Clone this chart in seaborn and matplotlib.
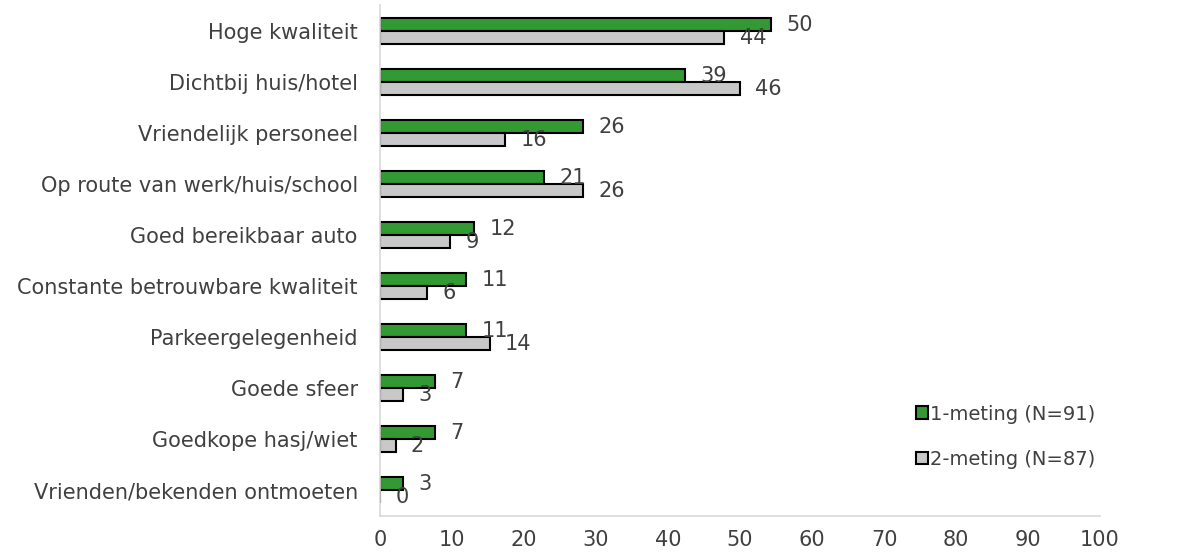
import matplotlib
matplotlib.use("Agg")
import matplotlib.pyplot as plt
import seaborn as sns
import pandas as pd

categories = [
    "Hoge kwaliteit",
    "Dichtbij huis/hotel",
    "Vriendelijk personeel",
    "Op route van werk/huis/school",
    "Goed bereikbaar auto",
    "Constante betrouwbare kwaliteit",
    "Parkeergelegenheid",
    "Goede sfeer",
    "Goedkope hasj/wiet",
    "Vrienden/bekenden ontmoeten",
]
meting1 = [50, 39, 26, 21, 12, 11, 11, 7, 7, 3]
meting2 = [44, 46, 16, 26, 9, 6, 14, 3, 2, 0]
series = ["1-meting (N=91)", "2-meting (N=87)"]
tick_labels = [0, 10, 20, 30, 40, 50, 60, 70, 80, 90, 100]

df = pd.DataFrame({
    "categorie": categories * 2,
    "waarde": meting1 + meting2,
    "meting": [series[0]] * len(categories) + [series[1]] * len(categories),
})

sns.set_theme(style="white")
plt.rcParams["font.family"] = ["DejaVu Sans"]
text_color = "#404040"
fs = 15

fig = plt.figure(figsize=(11.94, 5.53), dpi=100)
ax = fig.add_axes([380 / 1194, 37 / 553, 720 / 1194, (516 - 5.5) / 553])

sns.barplot(
    data=df, y="categorie", x="waarde", hue="meting", orient="h",
    palette=["#339933", "#c8c8c8"], saturation=1, edgecolor="black", linewidth=1.5,
    width=0.51, ax=ax, legend=True,
)

bar_max = 92
ax.set_xlim(0, bar_max)
ax.set_ylim(len(categories) - 0.5, -0.5)
ax.set_xlabel("")
ax.set_ylabel("")
ax.set_xticks([])
ax.tick_params(axis="y", length=0, labelsize=fs, labelcolor=text_color, pad=16)
for s in ["top", "right"]:
    ax.spines[s].set_visible(False)
for s in ["left", "bottom"]:
    ax.spines[s].set_color("#d9d9d9")
    ax.spines[s].set_linewidth(1.2)

for cont in ax.containers:
    ax.bar_label(cont, labels=[f"{v:g}" for v in cont.datavalues],
                 padding=11, fontsize=fs, color=text_color)

sec = ax.secondary_xaxis("bottom", functions=(lambda x: x * 100 / bar_max,
                                              lambda x: x * bar_max / 100))
sec.set_xticks(tick_labels)
sec.set_xticklabels([str(t) for t in tick_labels])
sec.tick_params(length=0, labelsize=fs, labelcolor=text_color, pad=10)
sec.spines["bottom"].set_visible(False)

handles, labels = ax.get_legend_handles_labels()
ax.get_legend().remove()
fig.legend(handles, labels, loc="upper left", bbox_to_anchor=(898 / 1194, 1 - 387 / 553),
           frameon=False, fontsize=14, handlelength=0.62, handleheight=0.62,
           handletextpad=0.12, labelspacing=1.35, labelcolor=text_color)

fig.savefig("out.png", dpi=100)
